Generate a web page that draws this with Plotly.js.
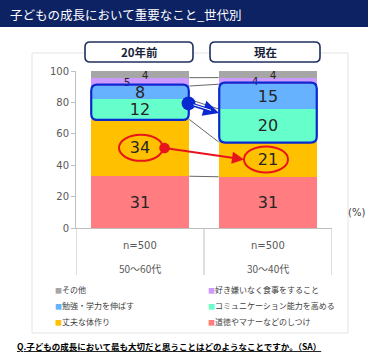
<!DOCTYPE html>
<html><head><meta charset="utf-8">
<script src="https://cdn.plot.ly/plotly-3.0.1.min.js"></script>
<style>html,body{margin:0;padding:0;background:#fff}#chart{width:384px;height:360px}</style>
</head><body><div id="chart"></div>
<script>
// ---- data ----
const chartTitle = '子どもの成長において重要なこと_世代別';
const periods = ['20年前', '現在'];
const ageGroups = ['50～60代', '30～40代'];
const sampleLabels = ['n=500', 'n=500'];
// series, bottom of stack to top
const seriesNames = ['道徳やマナーなどのしつけ', '丈夫な体作り', 'コミュニケーション能力を高める', '勉強・学力を伸ばす', '好き嫌いなく食事をすること', 'その他'];
const shitsuke = [31, 31];
const jobu = [34, 21];
const communication = [12, 20];
const benkyo = [8, 15];
const sukikirai = [5, 4];
const sonota = [4, 4];
const question = 'Q.子どもの成長において最も大切だと思うことはどのようなことですか。（SA）';

// ---- styles ----
const seriesValues = [shitsuke, jobu, communication, benkyo, sukikirai, sonota];
const colors = ['#FF7C80', '#FFC000', '#66FFCC', '#66B2FF', '#CC99FF', '#A6A6A6'];
const xs = [0, 1];
const barW = 0.77;

// plot-area geometry (px)
const L = 76, R = 332, T = 71, B = 228;
const px2x = p => (p - L) / (R - L);
const py2y = p => (B - p) / (B - T);
const dx2px = x => L + (x + 0.5) / 2 * (R - L);
const dy2px = y => B - y / 100 * (B - T);

// normalized cumulative tops (same as barnorm percent)
const totals = xs.map((_, i) => seriesValues.reduce((s, v) => s + v[i], 0));
const cum = seriesValues.map((_, k) => xs.map((_, i) => {
  let s = 0; for (let j = 0; j <= k; j++) s += seriesValues[j][i];
  return s / totals[i] * 100;
}));
const base = k => xs.map((_, i) => k ? cum[k - 1][i] : 0);

const traces = [];
// series lines between bars
for (let k = 0; k < seriesValues.length - 1; k++) {
  traces.push({
    type: 'scatter', mode: 'lines', x: [xs[0] + barW / 2, xs[1] - barW / 2],
    y: [cum[k][0], cum[k][1]], line: {color: '#404040', width: 0.8},
    showlegend: false, hoverinfo: 'skip'
  });
}
seriesValues.forEach((vals, k) => {
  const big = k < 4;
  traces.push({
    type: 'bar', name: seriesNames[k], x: xs, y: vals, width: barW,
    marker: {color: colors[k], line: {width: 0}},
    text: big ? vals.map(String) : undefined, textposition: big ? 'inside' : 'none', insidetextanchor: 'middle',
    constraintext: 'none', textangle: 0,
    textfont: {family: 'DejaVu Sans', size: 16, color: '#262626'},
    showlegend: false, hoverinfo: 'skip'
  });
});
// small-segment labels (その他, 好き嫌い) placed as in the reference
const smallLabels = [
  {k: 5, dx: 0.04, dy: -1.2},
  {k: 4, dx: -0.1, dy: -0.8}
];
smallLabels.forEach(s => {
  traces.push({
    type: 'scatter', mode: 'text',
    x: xs.map(x => x + s.dx),
    y: xs.map((_, i) => (base(s.k)[i] + cum[s.k][i]) / 2 + s.dy),
    text: seriesValues[s.k].map(String), textposition: 'middle center',
    textfont: {family: 'DejaVu Sans', size: 10.5, color: '#262626'},
    showlegend: false, hoverinfo: 'skip', cliponaxis: false
  });
});

function rrPath(x0, y0, x1, y1, r) {
  const X = p => px2x(p).toFixed(5), Y = p => py2y(p).toFixed(5);
  return `M${X(x0 + r)},${Y(y0)} L${X(x1 - r)},${Y(y0)} Q${X(x1)},${Y(y0)} ${X(x1)},${Y(y0 + r)} ` +
    `L${X(x1)},${Y(y1 - r)} Q${X(x1)},${Y(y1)} ${X(x1 - r)},${Y(y1)} L${X(x0 + r)},${Y(y1)} ` +
    `Q${X(x0)},${Y(y1)} ${X(x0)},${Y(y1 - r)} L${X(x0)},${Y(y0 + r)} Q${X(x0)},${Y(y0)} ${X(x0 + r)},${Y(y0)} Z`;
}

const shapes = [];
// outer frame
shapes.push({type: 'rect', xref: 'paper', yref: 'paper', x0: px2x(32), x1: px2x(348), y0: py2y(53), y1: py2y(333),
  line: {color: '#e3e3e3', width: 1}, layer: 'below'});
// title bar
shapes.push({type: 'rect', xref: 'paper', yref: 'paper', x0: px2x(0), x1: px2x(368), y0: py2y(0), y1: py2y(27),
  fillcolor: '#0d2263', line: {width: 0}});
// category dividers
[-0.5, 0.5, 1.5].forEach(v => shapes.push({type: 'line', xref: 'x', yref: 'paper', x0: v, x1: v,
  y0: 0, y1: py2y(275), line: {color: '#bfbfbf', width: 1}}));
// header boxes
const headerBoxes = [[85, 193], [210, 320]];
headerBoxes.forEach(b => shapes.push({type: 'path', xref: 'paper', yref: 'paper', path: rrPath(b[0], 42, b[1], 62, 5),
  fillcolor: '#ffffff', line: {color: '#1f3060', width: 1.6}}));
// blue rounded boxes around study + communication segments
xs.forEach((x, i) => {
  const x0 = dx2px(x - barW / 2) + 0.5, x1 = dx2px(x + barW / 2) - 0.5;
  const yTop = dy2px(cum[3][i]) - 1.5, yBot = dy2px(cum[1][i]) + 0.5;
  shapes.push({type: 'path', xref: 'paper', yref: 'paper', path: rrPath(x0, yTop, x1, yBot, 6),
    line: {color: '#0a28d0', width: 2.2}});
});
// red ellipses around 丈夫な体作り
const ell = xs.map((x, i) => ({cx: dx2px(x) + (i ? -2 : 1), cy: dy2px((cum[0][i] + cum[1][i]) / 2), rx: 22, ry: 13}));
ell.forEach(e => shapes.push({type: 'circle', xref: 'paper', yref: 'paper',
  x0: px2x(e.cx - e.rx), x1: px2x(e.cx + e.rx), y0: py2y(e.cy - e.ry), y1: py2y(e.cy + e.ry),
  line: {color: '#e8141b', width: 2}}));

const annotations = [];
const ann = (px, py, text, font, extra) => annotations.push(Object.assign({
  xref: 'paper', yref: 'paper', x: px2x(px), y: py2y(py), text, showarrow: false,
  xanchor: 'center', yanchor: 'middle', font}, extra || {}));
// title
ann(8, 14, chartTitle, {family: 'Noto Sans CJK JP', size: 12.5, color: '#ffffff'}, {xanchor: 'left'});
// headers
headerBoxes.forEach((b, i) => ann((b[0] + b[1]) / 2, 52, '<b>' + periods[i] + '</b>',
  {family: 'Noto Sans CJK JP', size: 11.5, color: '#1a1f3a'}));
// x labels
xs.forEach((x, i) => {
  ann(dx2px(x), 245, sampleLabels[i], {family: 'DejaVu Sans', size: 10, color: '#595959'});
  ann(dx2px(x), 268, ageGroups[i], {family: 'Noto Sans CJK JP', size: 10, color: '#595959'});
});
// unit
ann(356, 212, '(%)', {family: 'DejaVu Sans', size: 10, color: '#404040'});
// legend (top of stack first, two columns)
const legendOrder = [5, 4, 3, 2, 1, 0];
legendOrder.forEach((k, j) => {
  const col = j % 2, row = Math.floor(j / 2);
  ann(col ? 206 : 53, 289 + row * 16, `<span style="color:${colors[k]};font-size:7px">■</span>${seriesNames[k]}`,
    {family: 'Noto Sans CJK JP', size: 8, color: '#404040'}, {xanchor: 'left'});
});
// question
ann(15, 346, '<b><u>' + question + '</u></b>', {family: 'Noto Sans CJK JP', size: 8.5, color: '#000000'}, {xanchor: 'left'});

// arrows
function arrow(tx, ty, hx, hy, color, width, head, startHead, size) {
  annotations.push({xref: 'paper', yref: 'paper', x: px2x(hx), y: py2y(hy), ax: tx - hx, ay: ty - hy,
    text: '', showarrow: true, arrowcolor: color, arrowwidth: width, arrowhead: head, arrowsize: size,
    arrowside: startHead ? 'end+start' : 'end', startarrowhead: startHead || 0, startarrowsize: size * 1.1,
    standoff: 0, startstandoff: 0});
}
arrow(ell[0].cx + ell[0].rx, ell[0].cy, ell[1].cx - ell[1].rx, ell[1].cy, '#e8141b', 2, 2, 6, 1.2);
arrow(187, 103, 219, 113, '#0a28d0', 3.5, 2, 6, 0.9);
arrow(192, 104.3, 211, 110.3, '#ffffff', 1, 0, 0, 1);

const layout = {
  width: 384, height: 360, autosize: false,
  margin: {l: L, r: 384 - R, t: T, b: 360 - B, pad: 0},
  paper_bgcolor: '#ffffff', plot_bgcolor: '#ffffff',
  barmode: 'stack', barnorm: 'percent', showlegend: false,
  xaxis: {range: [-0.5, 1.5], showticklabels: false, ticks: '', showgrid: false, zeroline: false,
    showline: true, linecolor: '#bfbfbf', linewidth: 1, fixedrange: true},
  yaxis: {range: [0, 100], tickvals: [0, 20, 40, 60, 80, 100], ticksuffix: '%', ticks: 'outside', ticklen: 4,
    tickcolor: '#bfbfbf', showgrid: false, zeroline: false, showline: true, linecolor: '#bfbfbf', linewidth: 1,
    tickfont: {family: 'DejaVu Sans', size: 10, color: '#595959'}, fixedrange: true},
  shapes, annotations
};
Plotly.newPlot('chart', traces, layout, {staticPlot: true, displayModeBar: false});
</script></body></html>
